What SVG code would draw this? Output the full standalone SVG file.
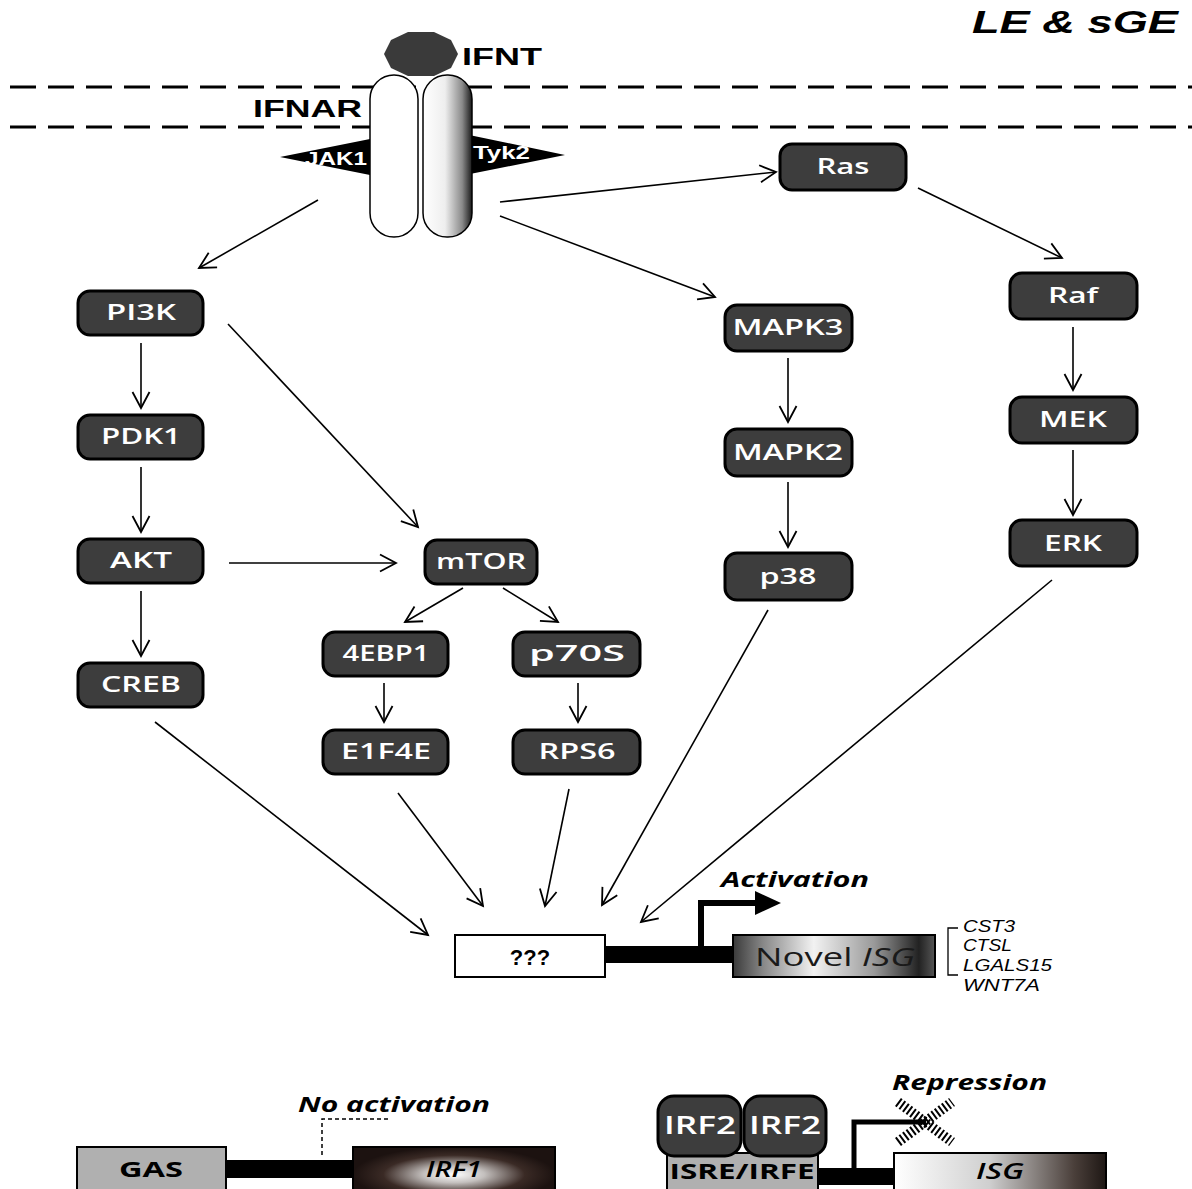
<svg xmlns="http://www.w3.org/2000/svg" width="1192" height="1189" viewBox="0 0 1192 1189">
<style>
.node rect{fill:#3d3d3d;stroke:#000;stroke-width:3}
.nt{font-family:"Open Sans","DejaVu Sans",sans-serif;font-weight:600;font-size:21px;fill:#fff;text-anchor:middle}
.conn line{stroke:#000;stroke-width:1.6;marker-end:url(#ah)}
.mem{stroke:#000;stroke-width:3;stroke-dasharray:26 12;fill:none}
.lbl{font-family:"Liberation Sans",Arial,sans-serif;font-weight:bold;fill:#000}
.it{font-family:"Open Sans","DejaVu Sans",sans-serif;font-style:italic;fill:#000}
.gl{font-family:"Liberation Sans",Arial,sans-serif;font-style:italic;font-size:16px;fill:#000}
.box{stroke:#000;stroke-width:2}
</style>
<defs>
<marker id="ah" markerUnits="userSpaceOnUse" markerWidth="22" markerHeight="22" viewBox="-19 -11 22 22" refX="0" refY="0" orient="auto">
<path d="M-16,-8.5 L0,0 L-16,8.5" fill="none" stroke="#000" stroke-width="1.8"/>
</marker>
<linearGradient id="gCap" x1="0" y1="0" x2="1" y2="0">
<stop offset="0" stop-color="#fff"/><stop offset="0.45" stop-color="#eee"/><stop offset="0.8" stop-color="#8a8a8a"/><stop offset="1" stop-color="#1a1a1a"/>
</linearGradient>
<linearGradient id="gNovel" x1="0" y1="0" x2="1" y2="0">
<stop offset="0" stop-color="#3a3a3a"/><stop offset="0.15" stop-color="#888"/><stop offset="0.4" stop-color="#f2f2f2"/><stop offset="0.7" stop-color="#999"/><stop offset="0.92" stop-color="#222"/><stop offset="1" stop-color="#555"/>
</linearGradient>
<radialGradient id="gIrf1" cx="0.5" cy="0.5" r="0.5">
<stop offset="0" stop-color="#fff"/><stop offset="0.3" stop-color="#c4c0be"/><stop offset="0.7" stop-color="#3a2a25"/><stop offset="1" stop-color="#1c1210"/>
</radialGradient>
<linearGradient id="gIsg" x1="0" y1="0" x2="1" y2="0">
<stop offset="0" stop-color="#fff"/><stop offset="0.45" stop-color="#cfcfcf"/><stop offset="0.85" stop-color="#4a3f3a"/><stop offset="1" stop-color="#1e1714"/>
</linearGradient>
</defs>
<rect width="1192" height="1189" fill="#fff"/>

<text class="lbl" x="972" y="33" font-size="32" font-style="italic" textLength="206" lengthAdjust="spacingAndGlyphs">LE &amp; sGE</text>

<!-- membrane -->
<line class="mem" x1="10" y1="87" x2="1192" y2="87"/>
<line class="mem" x1="10" y1="127" x2="1192" y2="127"/>

<!-- receptor -->
<g id="receptor">
<polygon points="280,157 390,135 390,179" fill="#000"/>
<polygon points="565,155 450,131 450,178" fill="#000"/>
<polygon points="408,32 434,32 451,40 458,54 451,68 434,76 408,76 391,68 384,54 391,40" fill="#3a3a3a"/>
<rect x="370" y="75" width="48" height="162" rx="24" fill="#fff" stroke="#000" stroke-width="1.5"/>
<rect x="423" y="75" width="49" height="162" rx="24" fill="url(#gCap)" stroke="#000" stroke-width="1.5"/>
<text class="lbl" x="462" y="65" font-size="24" textLength="80" lengthAdjust="spacingAndGlyphs">IFNT</text>
<text class="lbl" x="253" y="117" font-size="24" textLength="109" lengthAdjust="spacingAndGlyphs">IFNAR</text>
<text class="lbl" x="305" y="165" font-size="18" style="fill:#fff" textLength="62" lengthAdjust="spacingAndGlyphs">JAK1</text>
<text class="lbl" x="473" y="159" font-size="18" style="fill:#fff" textLength="57" lengthAdjust="spacingAndGlyphs">Tyk2</text>
</g>

<!-- nodes -->
<g id="PI3K" class="node"><rect x="78" y="291" width="125" height="44" rx="12"/><text class="nt" x="141" y="320" textLength="70" lengthAdjust="spacingAndGlyphs">PI3K</text></g>
<g id="PDK1" class="node"><rect x="78" y="415" width="125" height="44" rx="12"/><text class="nt" x="141" y="444" textLength="80" lengthAdjust="spacingAndGlyphs">PDK1</text></g>
<g id="AKT" class="node"><rect x="78" y="539" width="125" height="44" rx="12"/><text class="nt" x="141" y="568" textLength="62" lengthAdjust="spacingAndGlyphs">AKT</text></g>
<g id="CREB" class="node"><rect x="78" y="663" width="125" height="44" rx="12"/><text class="nt" x="141" y="692" textLength="80" lengthAdjust="spacingAndGlyphs">CREB</text></g>
<g id="mTOR" class="node"><rect x="425" y="540" width="112" height="44" rx="12"/><text class="nt" x="481" y="569" textLength="90" lengthAdjust="spacingAndGlyphs">mTOR</text></g>
<g id="4EBP1" class="node"><rect x="323" y="632" width="125" height="44" rx="12"/><text class="nt" x="386" y="661" textLength="87" lengthAdjust="spacingAndGlyphs">4EBP1</text></g>
<g id="p70S" class="node"><rect x="513" y="632" width="127" height="44" rx="12"/><text class="nt" x="577" y="661" textLength="96" lengthAdjust="spacingAndGlyphs">p70S</text></g>
<g id="E1F4E" class="node"><rect x="323" y="730" width="125" height="44" rx="12"/><text class="nt" x="386" y="759" textLength="90" lengthAdjust="spacingAndGlyphs">E1F4E</text></g>
<g id="RPS6" class="node"><rect x="513" y="730" width="127" height="44" rx="12"/><text class="nt" x="577" y="759" textLength="77" lengthAdjust="spacingAndGlyphs">RPS6</text></g>
<g id="Ras" class="node"><rect x="780" y="144" width="126" height="46" rx="12"/><text class="nt" x="843" y="174" textLength="53" lengthAdjust="spacingAndGlyphs">Ras</text></g>
<g id="Raf" class="node"><rect x="1010" y="273" width="127" height="46" rx="12"/><text class="nt" x="1073" y="303" textLength="50" lengthAdjust="spacingAndGlyphs">Raf</text></g>
<g id="MEK" class="node"><rect x="1010" y="397" width="127" height="46" rx="12"/><text class="nt" x="1073" y="427" textLength="68" lengthAdjust="spacingAndGlyphs">MEK</text></g>
<g id="ERK" class="node"><rect x="1010" y="520" width="127" height="46" rx="12"/><text class="nt" x="1073" y="551" textLength="58" lengthAdjust="spacingAndGlyphs">ERK</text></g>
<g id="MAPK3" class="node"><rect x="725" y="305" width="127" height="46" rx="12"/><text class="nt" x="788" y="335" textLength="111" lengthAdjust="spacingAndGlyphs">MAPK3</text></g>
<g id="MAPK2" class="node"><rect x="725" y="429" width="127" height="47" rx="12"/><text class="nt" x="788" y="460" textLength="110" lengthAdjust="spacingAndGlyphs">MAPK2</text></g>
<g id="p38" class="node"><rect x="725" y="553" width="127" height="47" rx="12"/><text class="nt" x="788" y="584" textLength="57" lengthAdjust="spacingAndGlyphs">p38</text></g>

<!-- connectors -->
<g id="connectors" class="conn">
<line x1="318" y1="200" x2="199" y2="268"/>
<line x1="500" y1="202" x2="776" y2="172"/>
<line x1="500" y1="216" x2="715" y2="297"/>
<line x1="918" y1="188" x2="1062" y2="258"/>
<line x1="141" y1="343" x2="141" y2="408"/>
<line x1="141" y1="467" x2="141" y2="532"/>
<line x1="141" y1="591" x2="141" y2="656"/>
<line x1="228" y1="324" x2="418" y2="527"/>
<line x1="229" y1="563" x2="396" y2="563"/>
<line x1="463" y1="588" x2="405" y2="622"/>
<line x1="503" y1="588" x2="558" y2="622"/>
<line x1="384" y1="683" x2="384" y2="722"/>
<line x1="578" y1="683" x2="578" y2="722"/>
<line x1="788" y1="358" x2="788" y2="422"/>
<line x1="788" y1="482" x2="788" y2="547"/>
<line x1="1073" y1="327" x2="1073" y2="390"/>
<line x1="1073" y1="450" x2="1073" y2="515"/>
<line x1="155" y1="722" x2="428" y2="935"/>
<line x1="398" y1="793" x2="483" y2="906"/>
<line x1="569" y1="789" x2="545" y2="906"/>
<line x1="768" y1="610" x2="602" y2="905"/>
<line x1="1052" y1="580" x2="641" y2="922"/>
</g>

<!-- novel ISG gene -->
<g id="novel">
<text class="it" x="721" y="887" font-size="22" font-weight="bold" textLength="148" lengthAdjust="spacingAndGlyphs">Activation</text>
<rect x="605" y="946" width="130" height="17" fill="#000"/>
<path d="M701,948 V903 H760" fill="none" stroke="#000" stroke-width="6"/>
<polygon points="755,891 781,903 755,915" fill="#000"/>
<rect class="box" x="455" y="935" width="150" height="42" fill="#fff"/>
<text class="lbl" x="530" y="965" font-size="22" text-anchor="middle">???</text>
<rect class="box" x="733" y="935" width="202" height="42" fill="url(#gNovel)"/>
<text x="835" y="966" font-size="25" text-anchor="middle" font-family="'Open Sans','DejaVu Sans',sans-serif" fill="#1a1a1a" textLength="160" lengthAdjust="spacingAndGlyphs">Novel <tspan font-style="italic">ISG</tspan></text>
<path d="M958,928 H948 V975 H958" fill="none" stroke="#000" stroke-width="1.3"/>
<text class="gl" x="963" y="932" textLength="52" lengthAdjust="spacingAndGlyphs">CST3</text>
<text class="gl" x="963" y="951" textLength="49" lengthAdjust="spacingAndGlyphs">CTSL</text>
<text class="gl" x="963" y="971" textLength="89" lengthAdjust="spacingAndGlyphs">LGALS15</text>
<text class="gl" x="963" y="991" textLength="77" lengthAdjust="spacingAndGlyphs">WNT7A</text>
</g>

<!-- GAS / IRF1 -->
<g id="gas">
<text class="it" x="298" y="1112" font-size="22" font-weight="bold" textLength="192" lengthAdjust="spacingAndGlyphs">No activation</text>
<path d="M322,1155 V1119 H388" fill="none" stroke="#000" stroke-width="1.5" stroke-dasharray="4 3"/>
<rect x="226" y="1160" width="128" height="18" fill="#000"/>
<rect class="box" x="77" y="1147" width="149" height="55" fill="#b0b0b0"/>
<text class="lbl" x="151" y="1177" font-size="22" text-anchor="middle" style="font-family:'Open Sans',sans-serif" textLength="64" lengthAdjust="spacingAndGlyphs">GAS</text>
<rect class="box" x="353" y="1147" width="202" height="55" fill="url(#gIrf1)"/>
<text class="it" x="454" y="1177" font-size="22" font-weight="600" text-anchor="middle" textLength="56" lengthAdjust="spacingAndGlyphs">IRF1</text>
</g>

<!-- ISRE / ISG -->
<g id="isre">
<text class="it" x="892" y="1090" font-size="21" font-weight="bold" textLength="155" lengthAdjust="spacingAndGlyphs">Repression</text>
<rect x="818" y="1168" width="78" height="17" fill="#000"/>
<path d="M854,1170 V1122 H926" fill="none" stroke="#000" stroke-width="5"/>
<g stroke="#000" stroke-width="10" stroke-dasharray="2 2.4">
<line x1="898" y1="1102" x2="952" y2="1142"/>
<line x1="898" y1="1142" x2="952" y2="1102"/>
</g>
<rect class="box" x="667" y="1153" width="151" height="50" fill="#b0b0b0"/>
<text class="lbl" x="742" y="1179" font-size="22" text-anchor="middle" style="font-family:'Open Sans',sans-serif" textLength="145" lengthAdjust="spacingAndGlyphs">ISRE/IRFE</text>
<rect class="box" x="894" y="1153" width="212" height="50" fill="url(#gIsg)"/>
<text class="it" x="1000" y="1179" font-size="22" font-weight="600" text-anchor="middle" textLength="48" lengthAdjust="spacingAndGlyphs">ISG</text>
</g>
<g id="IRF2a" class="node"><rect x="658" y="1096" width="83" height="60" rx="16"/><text class="nt" x="700" y="1134" style="font-size:26px" textLength="72" lengthAdjust="spacingAndGlyphs">IRF2</text></g>
<g id="IRF2b" class="node"><rect x="744" y="1096" width="82" height="60" rx="16"/><text class="nt" x="785" y="1134" style="font-size:26px" textLength="72" lengthAdjust="spacingAndGlyphs">IRF2</text></g>
</svg>
